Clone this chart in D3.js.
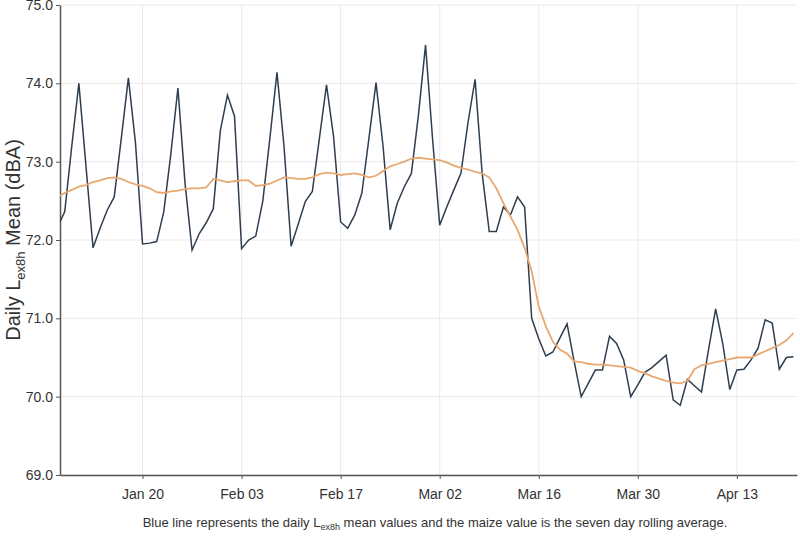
<!DOCTYPE html>
<html lang="en">
<head>
<meta charset="UTF-8">
<title>Daily Lex8h Mean</title>
<script src="https://d3js.org/d3.v7.min.js"></script>
<style>
    body { margin: 0; background: white; }
    text { font-family: "Liberation Sans", Arial, sans-serif; }
</style>
</head>
<body>
<svg id="svg"></svg>
<script>
    // daily Lex8h mean, one value per day starting Jan 8 2020
    const daily = [72.17,72.36,73.2,74.0,72.95,71.9,72.15,72.38,72.55,73.3,74.07,
        73.24,71.95,71.96,71.98,72.36,73.1,73.94,
        72.73,71.87,72.08,72.22,72.4,73.4,73.85,73.58,71.89,72.0,72.05,72.5,73.3,74.14,
        73.19,71.92,72.2,72.49,72.62,73.3,73.98,
        73.32,72.23,72.15,72.32,72.6,73.3,74.01,
        73.19,72.13,72.47,72.68,72.85,73.6,74.49,
        73.28,72.19,72.42,72.64,72.85,73.5,74.05,
        72.85,72.11,72.11,72.42,72.32,72.55,72.42,71.0,70.74,70.52,70.57,70.75,70.93,70.45,
        70.0,70.17,70.34,70.34,70.77,70.68,70.47,70.0,70.15,70.31,70.37,70.45,70.53,69.96,
        69.89,70.22,70.14,70.06,70.6,71.12,70.68,70.09,70.34,70.35,70.47,70.62,70.98,70.94,
        70.35,70.5,70.51];
    // seven day rolling average
    const rolling = [72.55,72.6,72.64,72.68,72.7,72.74,72.76,72.79,72.8,72.78,72.74,
        72.71,72.69,72.66,72.61,72.6,72.62,72.63,72.65,72.66,72.66,72.67,72.78,72.76,72.74,
        72.75,72.76,72.76,72.69,72.7,72.72,72.76,72.8,72.79,72.78,72.78,72.8,72.84,72.86,
        72.85,72.83,72.84,72.85,72.83,72.8,72.82,72.88,72.94,72.97,73.0,73.04,73.05,73.04,
        73.03,73.02,72.99,72.95,72.92,72.9,72.87,72.85,72.8,72.66,72.47,72.3,72.13,71.9,
        71.6,71.15,70.9,70.7,70.6,70.55,70.45,70.44,70.42,70.41,70.41,70.4,70.39,70.38,
        70.37,70.33,70.3,70.26,70.23,70.2,70.18,70.17,70.2,70.35,70.4,70.42,70.44,70.46,
        70.48,70.5,70.5,70.5,70.54,70.58,70.62,70.66,70.72,70.81];
    const yTicks = [69, 70, 71, 72, 73, 74, 75];
    const xTickDates = ["2020-01-20", "2020-02-03", "2020-02-17", "2020-03-02", "2020-03-16", "2020-03-30", "2020-04-13"];

    const width = 800, height = 537;
    const mLeft = 60, mRight = 797, mTop = 5, mBottom = 475;
    const svg = d3.select('#svg').attr('width', width).attr('height', height);

    const start = new Date(2020, 0, 8);
    const dates = daily.map((d, i) => d3.timeDay.offset(start, i));

    const xScale = d3.scaleTime()
        .domain([new Date(2020, 0, 8, 8), new Date(2020, 3, 21, 12)])
        .range([mLeft, mRight]);
    const yScale = d3.scaleLinear().domain([69, 75]).range([mBottom, mTop]);

    const xTicks = xTickDates.map(s => d3.timeParse("%Y-%m-%d")(s));

    // grid
    svg.append('g').selectAll('line').data(yTicks).enter().append('line')
        .attr('x1', mLeft).attr('x2', mRight)
        .attr('y1', d => yScale(d)).attr('y2', d => yScale(d))
        .attr('stroke', '#ebebeb');
    svg.append('g').selectAll('line').data(xTicks).enter().append('line')
        .attr('x1', d => xScale(d)).attr('x2', d => xScale(d))
        .attr('y1', mTop).attr('y2', mBottom)
        .attr('stroke', '#ebebeb');

    // axes
    const xAxis = d3.axisBottom(xScale).tickValues(xTicks)
        .tickFormat(d3.timeFormat("%b %d")).tickSize(4).tickSizeOuter(0);
    const yAxis = d3.axisLeft(yScale).tickValues(yTicks).tickSize(4).tickSizeOuter(0);
    const gx = svg.append('g').attr('transform', `translate(0,${mBottom})`).call(xAxis);
    const gy = svg.append('g').attr('transform', `translate(${mLeft},0)`).call(yAxis);
    [gx, gy].forEach(g => {
        g.select('.domain').attr('stroke', '#555').attr('stroke-width', 1.5);
        g.selectAll('.tick line').attr('stroke', '#555');
        g.selectAll('.tick text').attr('fill', '#333').style('font-size', '14px');
    });
    gx.selectAll('.tick text').attr('dy', '1.2em');

    svg.append('clipPath').attr('id', 'clip').append('rect')
        .attr('x', mLeft).attr('y', mTop).attr('width', mRight - mLeft).attr('height', mBottom - mTop);

    const line = (vals) => d3.line()
        .x((d, i) => xScale(dates[i]))
        .y(d => yScale(d))(vals);

    svg.append('path').attr('d', line(daily)).attr('clip-path', 'url(#clip)')
        .attr('fill', 'none').attr('stroke', '#2f3e4e').attr('stroke-width', 1.5);
    svg.append('path').attr('d', line(rolling)).attr('clip-path', 'url(#clip)')
        .attr('fill', 'none').attr('stroke', '#e8a870').attr('stroke-width', 1.8);

    // y label
    const ylab = svg.append('text')
        .attr('transform', `translate(20,${(mTop + mBottom) / 2}) rotate(-90)`)
        .attr('text-anchor', 'middle').attr('fill', '#333').style('font-size', '20px');
    ylab.append('tspan').text('Daily L');
    ylab.append('tspan').text('ex8h').style('font-size', '13px').attr('dy', 5);
    ylab.append('tspan').text(' Mean (dBA)').attr('dy', -5);

    // caption
    const cap = svg.append('text').attr('x', 435).attr('y', 527)
        .attr('text-anchor', 'middle').attr('fill', '#333').style('font-size', '13px');
    cap.append('tspan').text('Blue line represents the daily L');
    cap.append('tspan').text('ex8h').style('font-size', '9px').attr('dy', 3);
    cap.append('tspan').text(' mean values and the maize value is the seven day rolling average.').attr('dy', -3);
</script>
</body>
</html>
